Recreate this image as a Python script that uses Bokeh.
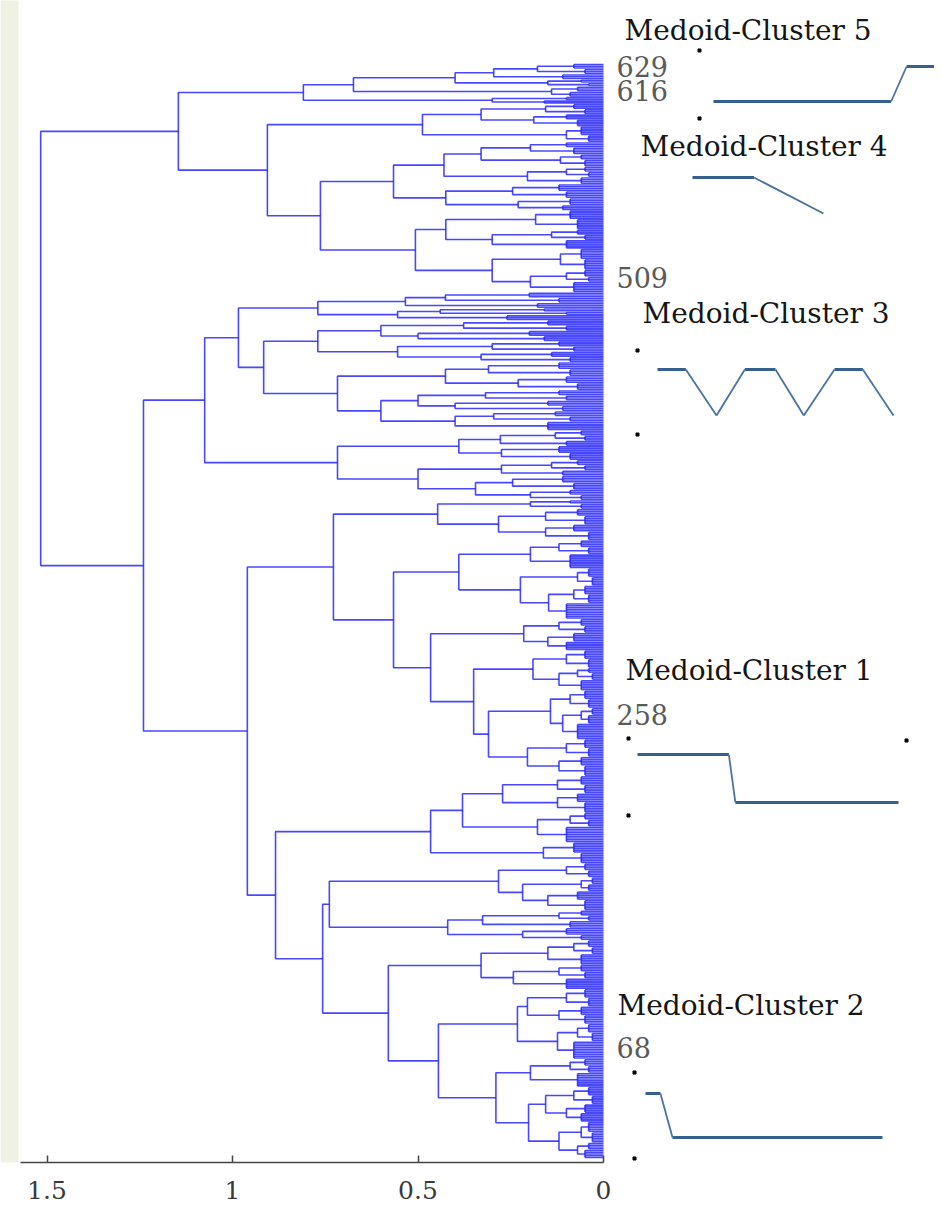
from bokeh.plotting import figure
from bokeh.models import Range1d, LinearAxis, FixedTicker, BoxAnnotation
from bokeh.embed import file_html
from bokeh.resources import INLINE
from bokeh.core.properties import value

# ---------------- data: dendrogram (node = [height, child, child]; bundle = [height, n_leaves]) ----
CLUSTER_5 = [0.809,
  [0.674,
    [0.40, [0.296, [0.178, [0.08, 3], [0.05, 3]], [0.11, 3]], [0.15, [0.06, 2], [0.04, 2]]],
    [0.14, [0.07, 3], [0.09, 3]]],
  [0.30, [0.10, 2], [0.16, 2]]]

CLUSTER_4 = [0.906,
  [0.488,
    [0.33, [0.156, [0.08, 3], [0.05, 3]], [0.188, [0.10, 3], [0.07, 4]]],
    [0.10, [0.06, 5], [0.04, 4]]],
  [0.763,
    [0.566,
      [0.43, [0.33, [0.197, [0.10, 3], [0.08, 4]], [0.116, [0.06, 3], [0.05, 4]]],
             [0.205, [0.10, [0.05, 3], [0.04, 3]], [0.06, 4]]],
      [0.425, [0.245, [0.12, 4], [0.10, 4]], [0.23, [0.09, 4], [0.11, 3]]]],
    [0.507,
      [0.425, [0.183, [0.09, 5], [0.07, 6]], [0.30, [0.14, [0.07, 3], [0.05, 3]], [0.10, 5]]],
      [0.30, [0.116, [0.06, 6], [0.05, 6]], [0.197, [0.10, [0.05, 4], [0.04, 3]], [0.08, 6]]]]]]

CLUSTER_3 = [1.075,
  [0.984,
    [0.77, [0.534, [0.426, [0.20, 3], [0.12, 3]], [0.178, 3]],
           [0.555, [0.44, [0.16, 2], [0.10, 2]], [0.26, 3]]],
    [0.916,
      [0.77, [0.60, [0.377, [0.15, 3], [0.10, 3]], [0.50, [0.20, 3], [0.16, 3]]],
             [0.555, [0.30, [0.12, 3], [0.08, 3]], [0.33, [0.14, 3], [0.09, 3]]]],
      [0.717, [0.426, [0.31, [0.12, 4], [0.09, 4]], [0.23, [0.10, 4], [0.07, 4]]],
              [0.60, [0.50, [0.318, [0.12, 3], [0.10, 3]], [0.40, [0.15, 3], [0.11, 3]]],
                     [0.40, [0.296, [0.13, 3], [0.09, 3]], [0.15, 5]]]]]],
  [0.717,
    [0.39, [0.278, [0.13, [0.06, 3], [0.05, 3]], [0.10, 3]], [0.275, [0.12, 4], [0.09, 4]]],
    [0.50, [0.275, [0.14, [0.07, 3], [0.05, 3]], [0.11, 3]],
           [0.345, [0.245, [0.11, 4], [0.08, 4]], [0.197, [0.09, 3], [0.06, 3]]]]]]

CLUSTER_1 = [0.728,
  [0.447, [0.197, [0.09, 2], [0.06, 3]],
          [0.283, [0.156, [0.07, 4], [0.05, 5]], [0.156, [0.08, 4], [0.04, 5]]]],
  [0.566,
    [0.39, [0.197, [0.12, [0.06, 4], [0.04, 4]], [0.09, 8]],
           [0.224, [0.07, [0.04, 5], [0.03, 5]], [0.148, [0.08, [0.05, 5], [0.04, 5]], [0.10, 9]]]],
    [0.466,
      [0.215, [0.12, [0.06, 4], [0.05, 4]], [0.15, [0.08, 5], [0.10, 5]]],
      [0.35,
        [0.19, [0.10, [0.05, 5], [0.04, 5]], [0.12, [0.07, [0.04, 3], [0.03, 4]], [0.06, 6]]],
        [0.31,
          [0.143, [0.09, [0.05, 5], [0.04, 5]], [0.11, [0.06, [0.03, 4], [0.04, 5]], [0.07, 9]]],
          [0.205, [0.10, [0.05, 5], [0.04, 5]], [0.12, [0.06, 5], [0.05, 6]]]]]]]]

CLUSTER_2 = [0.884,
  [0.466,
    [0.38, [0.272, [0.124, [0.06, 5], [0.05, 5]], [0.124, [0.07, 5], [0.05, 6]]],
           [0.178, [0.09, [0.05, 4], [0.04, 4]], [0.10, 9]]],
    [0.162, [0.08, 6], [0.06, 6]]],
  [0.757,
    [0.739,
      [0.283, [0.10, [0.05, 4], [0.04, 4]],
              [0.218, [0.06, [0.03, 4], [0.04, 4]], [0.15, [0.07, 5], [0.05, 6]]]],
      [0.42, [0.326, [0.12, [0.06, 3], [0.04, 3]], [0.09, 4]], [0.218, [0.10, 4], [0.06, 3]]]],
    [0.58,
      [0.33, [0.15, [0.08, [0.04, 4], [0.03, 4]], [0.06, 6]],
             [0.243, [0.12, [0.06, 4], [0.05, 4]], [0.10, 6]]],
      [0.445,
        [0.232, [0.205, [0.10, [0.05, 5], [0.04, 5]], [0.12, [0.06, 5], [0.05, 5]]],
                [0.124, [0.07, [0.04, 5], [0.03, 5]], [0.08, 10]]],
        [0.29, [0.197, [0.09, [0.05, 4], [0.04, 4]], [0.07, 8]],
               [0.202, [0.156, [0.08, [0.04, 5], [0.03, 5]], [0.10, [0.05, 5], [0.06, 5]]],
                       [0.12, [0.06, [0.04, 6], [0.03, 6]], [0.07, [0.04, 4], [0.05, 5]]]]]]]]]

ROOT_HEIGHT = 1.517
UPPER_HEIGHT = 1.146     # clusters 5 + 4
LOWER_HEIGHT = 1.24      # cluster 3 + (1 + 2)
C12_HEIGHT = 0.96        # clusters 1 + 2

TREE = [ROOT_HEIGHT,
        [UPPER_HEIGHT, CLUSTER_5, CLUSTER_4],
        [LOWER_HEIGHT, CLUSTER_3, [C12_HEIGHT, CLUSTER_1, CLUSTER_2]]]

AXIS_TICKS = [0, 0.5, 1, 1.5]
AXIS_LABELS = ["0", "0.5", "1", "1.5"]

CLUSTER_TITLES = ["Medoid-Cluster 5", "Medoid-Cluster 4", "Medoid-Cluster 3",
                  "Medoid-Cluster 1", "Medoid-Cluster 2"]
LEAF_LABELS = ["629", "616", "509", "258", "68"]

# medoid profiles (normalised time, level)
MEDOID5_T = [0.0, 0.80, 0.87, 1.0]
MEDOID5_V = [0, 0, 1, 1]
MEDOID4_T = [0.0, 0.47, 1.0]
MEDOID4_V = [1, 1, 0]
MEDOID3_T = [0.0, 0.12, 0.25, 0.37, 0.50, 0.62, 0.75, 0.87, 1.0]
MEDOID3_V = [1, 1, 0, 1, 1, 0, 1, 1, 0]
MEDOID1_T = [0.0, 0.35, 0.375, 1.0]
MEDOID1_V = [1, 1, 0, 0]
MEDOID2_T = [0.0, 0.063, 0.114, 1.0]
MEDOID2_V = [1, 1, 0, 0]

# ---------------- layout (page pixel coordinates) ----------------
TITLE_POS = [(624, 30), (640, 146), (642, 313), (625, 670), (617, 1005)]
LEAF_POS = [(616, 66), (616, 90), (616, 277), (616, 714), (616, 1047)]
MEDOID_BOX = [(713, 935, 101, 66), (692, 823, 213, 177), (657, 893, 415, 369),
              (637, 898, 802, 754), (645, 882, 1137, 1093)]
DOT_POS = [(699, 50), (699, 118), (637, 350), (637, 434), (628, 738), (628, 815),
           (906, 740), (634, 1072), (634, 1158)]

# ---------------- build dendrogram segments ----------------
xs, ys = [], []
counter = [0]


def build(node):
    if len(node) == 2:
        h, n = node
        first = counter[0] + 1
        for _ in range(n):
            counter[0] += 1
            y = counter[0]
            xs.append([h, 0]); ys.append([y, y])
        last = counter[0]
        if n > 1:
            xs.append([h, h]); ys.append([first, last])
        return (first + last) / 2.0, h
    h, a, b = node
    ya, ha = build(a)
    yb, hb = build(b)
    xs.append([ha, h, h, hb]); ys.append([ya, ya, yb, yb])
    return (ya + yb) / 2.0, h


build(TREE)
N = counter[0]

# page geometry: the frame starts at the page's top-left corner
PX_RIGHT, PX_AXIS = 934, 1162
AXIS_LEFT = 20
PX_ZERO, PX_PER_UNIT = 603, 371.0
LEAF_TOP, LEAF_BOT = 64, 1157
s = (LEAF_BOT - LEAF_TOP) / (N - 1)

x_start = PX_ZERO / PX_PER_UNIT
x_end = (PX_ZERO - PX_RIGHT) / PX_PER_UNIT
y_top = 1 - LEAF_TOP / s
y_bot = N + (PX_AXIS - LEAF_BOT) / s

p = figure(frame_width=PX_RIGHT, frame_height=PX_AXIS,
           x_range=Range1d(x_start, x_end), y_range=Range1d(y_bot, y_top),
           output_backend="svg", toolbar_location=None,
           min_border_left=0, min_border_right=0, min_border_top=0,
           min_border_bottom=49,
           x_axis_location=None, y_axis_location=None)
p.extra_x_ranges = {"px": Range1d(0, PX_RIGHT)}
p.extra_y_ranges = {"px": Range1d(PX_AXIS, 0)}
p.grid.visible = False
p.outline_line_color = None
p.background_fill_color = "white"
p.border_fill_color = "white"

p.add_layout(BoxAnnotation(left=0, right=18, top=0, bottom=1211,
                           left_units="screen", right_units="screen",
                           top_units="screen", bottom_units="screen",
                           fill_color="#eff1e2", fill_alpha=1.0, line_color=None))

p.multi_line(xs, ys, line_color="#2020ff", line_width=1.6, line_alpha=0.82)

axis = LinearAxis(ticker=FixedTicker(ticks=AXIS_TICKS),
                  bounds=(0, (PX_ZERO - AXIS_LEFT) / PX_PER_UNIT),
                  major_label_overrides={t: l for t, l in zip(AXIS_TICKS, AXIS_LABELS)})
axis.axis_line_color = "#444444"
axis.axis_line_width = 1.5
axis.major_tick_line_color = "#444444"
axis.major_tick_line_width = 1.5
axis.major_tick_in = 7
axis.major_tick_out = 0
axis.minor_tick_line_color = None
axis.major_label_standoff = 18
axis.major_label_text_font = "DejaVu Serif"
axis.major_label_text_font_size = "25px"
axis.major_label_text_color = "#3a3a3a"
p.add_layout(axis, "below")

FONT = value("DejaVu Serif")
p.text(x=[q[0] for q in TITLE_POS], y=[q[1] for q in TITLE_POS], text=CLUSTER_TITLES,
       x_range_name="px", y_range_name="px", text_font=FONT, text_font_size="28px",
       text_color="#151515", text_baseline="middle", text_align="left")
p.text(x=[q[0] for q in LEAF_POS], y=[q[1] for q in LEAF_POS], text=LEAF_LABELS,
       x_range_name="px", y_range_name="px", text_font=FONT, text_font_size="27px",
       text_color="#5a5a5a", text_baseline="middle", text_align="left")

profiles = [(MEDOID5_T, MEDOID5_V), (MEDOID4_T, MEDOID4_V), (MEDOID3_T, MEDOID3_V),
            (MEDOID1_T, MEDOID1_V), (MEDOID2_T, MEDOID2_V)]
flat_x, flat_y, slope_x, slope_y = [], [], [], []
for (t, v), (x0, x1, y0, y1) in zip(profiles, MEDOID_BOX):
    px = [x0 + ti * (x1 - x0) for ti in t]
    py = [y0 + vi * (y1 - y0) for vi in v]
    for i in range(len(px) - 1):
        if v[i] == v[i + 1]:
            flat_x.append([px[i], px[i + 1]]); flat_y.append([py[i], py[i + 1]])
        else:
            slope_x.append([px[i], px[i + 1]]); slope_y.append([py[i], py[i + 1]])
p.multi_line(flat_x, flat_y, x_range_name="px", y_range_name="px",
             line_color="#36608f", line_width=3.0)
p.multi_line(slope_x, slope_y, x_range_name="px", y_range_name="px",
             line_color="#4a72a0", line_width=1.8)

p.scatter([q[0] for q in DOT_POS], [q[1] for q in DOT_POS], x_range_name="px",
          y_range_name="px", marker="square", size=3, color="black")

open("out.html", "w").write(file_html(p, INLINE))
